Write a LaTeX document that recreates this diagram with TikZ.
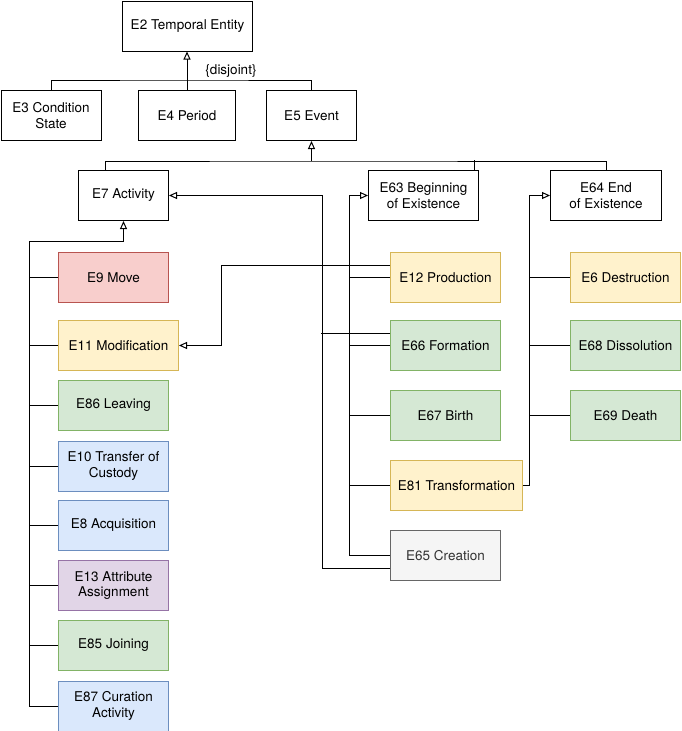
\documentclass[tikz,border=0pt]{standalone}
\usepackage{fontspec}
\setmainfont{TeX Gyre Heros}
\usepackage{tikz}
\usetikzlibrary{arrows.meta,calc,positioning}

\definecolor{rotfill}{HTML}{F8CECC}
\definecolor{rotrand}{HTML}{B85450}
\definecolor{gelbfill}{HTML}{FFF2CC}
\definecolor{gelbrand}{HTML}{D6B656}
\definecolor{gruenfill}{HTML}{D5E8D4}
\definecolor{gruenrand}{HTML}{82B366}
\definecolor{blaufill}{HTML}{DAE8FC}
\definecolor{blaurand}{HTML}{6C8EBF}
\definecolor{lilafill}{HTML}{E1D5E7}
\definecolor{lilarand}{HTML}{9673A6}
\definecolor{graufill}{HTML}{F5F5F5}
\definecolor{graurand}{HTML}{666666}
\definecolor{grautext}{HTML}{333333}

\tikzset{
  kasten/.style={draw=black, line width=1pt, fill=white, anchor=north west,
    minimum width=\breite, minimum height=\hoehe, align=center, inner sep=2pt,
    font=\fontsize{13.5}{15.7}\selectfont},
  rot/.style={kasten, fill=rotfill, draw=rotrand},
  gelb/.style={kasten, fill=gelbfill, draw=gelbrand},
  gruen/.style={kasten, fill=gruenfill, draw=gruenrand},
  blau/.style={kasten, fill=blaufill, draw=blaurand},
  lila/.style={kasten, fill=lilafill, draw=lilarand},
  grau/.style={kasten, fill=graufill, draw=graurand, text=grautext},
  linie/.style={line width=1pt},
  pfeil/.style={linie, -{Triangle[open, length=8pt, width=7pt]}}
}

\begin{document}
\begin{tikzpicture}[x=1pt, y=-1pt]
\pgfmathsetmacro{\breite}{110}
\pgfmathsetmacro{\hoehe}{50}
\fill[white] (0,0) rectangle (681,731);
\useasboundingbox (0,0) rectangle (681,731);

% obere Ebene
\node[kasten, minimum width=130] (e2) at (122,0.5) {E2 Temporal Entity};
\node[kasten, minimum width=100] (e3) at (0.5,90) {E3 Condition\\State};
\node[kasten, minimum width=97] (e4) at (138,90) {E4 Period};
\node[kasten, minimum width=90] (e5) at (266,90) {E5 Event};
\node[font=\fontsize{13.5}{15.7}\selectfont] (dj) at (231,71) {\{disjoint\}};

\node[kasten, minimum width=90] (e7) at (78,170) {E7 Activity};
\node[kasten] (e63) at (368,170) {E63 Beginning\\of Existence};
\node[kasten, minimum width=111] (e64) at (550,170) {E64 End\\of Existence};

% Activity
\node[rot] (e9) at (58,252) {E9 Move};
\node[gelb, minimum width=120] (e11) at (58,320) {E11 Modification};
\node[gruen] (e86) at (58,380) {E86 Leaving};
\node[blau] (e10) at (58,440.5) {E10 Transfer of\\Custody};
\node[blau] (e8) at (58,500) {E8 Acquisition};
\node[lila] (e13) at (58,560) {E13 Attribute\\Assignment};
\node[gruen] (e85) at (58,620) {E85 Joining};
\node[blau] (e87) at (58,680.5) {E87 Curation\\Activity};

% Beginning of Existence
\node[gelb] (e12) at (390,252) {E12 Production};
\node[gruen] (e66) at (390,320) {E66 Formation};
\node[gruen] (e67) at (390,390) {E67 Birth};
\node[gelb, minimum width=132] (e81) at (390,460) {E81 Transformation};
\node[grau] (e65) at (390,530) {E65 Creation};

% End of Existence
\node[gelb] (e6) at (570,252) {E6 Destruction};
\node[gruen] (e68) at (570,320) {E68 Dissolution};
\node[gruen] (e69) at (570,390) {E69 Death};

% Temporal Entity
\draw[pfeil] (e4.north) -- (e4.north |- e2.south);
\draw[linie] (e3.north) |- ($(e4.north)+(0,-10)$) -| (e5.north);

% Event
\coordinate (ev) at ($(e5.south)+(0,20)$);
\draw[pfeil] (ev) -- (e5.south);
\draw[linie] ($(e7.north west)+(27,0)$) |- (ev) -| (e64.north);
\draw[linie] ($(e63.north east)+(-5,0)$) -- ++(0,-10);

% Activity
\draw[pfeil] (e87.west) -- ++(-29,0) |- ($(e7.south)+(0,20)$) -- (e7.south);
\foreach \k in {e9,e11,e86,e10,e8,e13,e85}
  \draw[linie] (\k.west) -- ++(-29,0);
\draw[pfeil] ($(e65.west)+(0,13)$) -| ($(e7.east)+(153,0)$) -- (e7.east);
\draw[linie] ($(e66.west)+(0,-12)$) -- ++(-69,0);

% Beginning of Existence
\draw[pfeil] (e65.west) -| ($(e63.west)+(-19,0)$) -- (e63.west);
\foreach \k in {e12,e66,e67,e81}
  \draw[linie] (\k.west) -- ++(-41,0);

% Production -> Modification
\draw[pfeil] ($(e12.west)+(0,-12)$) -| ($(e11.east)+(42,0)$) -- (e11.east);

% End of Existence
\draw[pfeil] (e81.east) -| ($(e64.west)+(-21,0)$) -- (e64.west);
\foreach \k in {e6,e68,e69}
  \draw[linie] (\k.west) -- ++(-41,0);
\end{tikzpicture}
\end{document}
